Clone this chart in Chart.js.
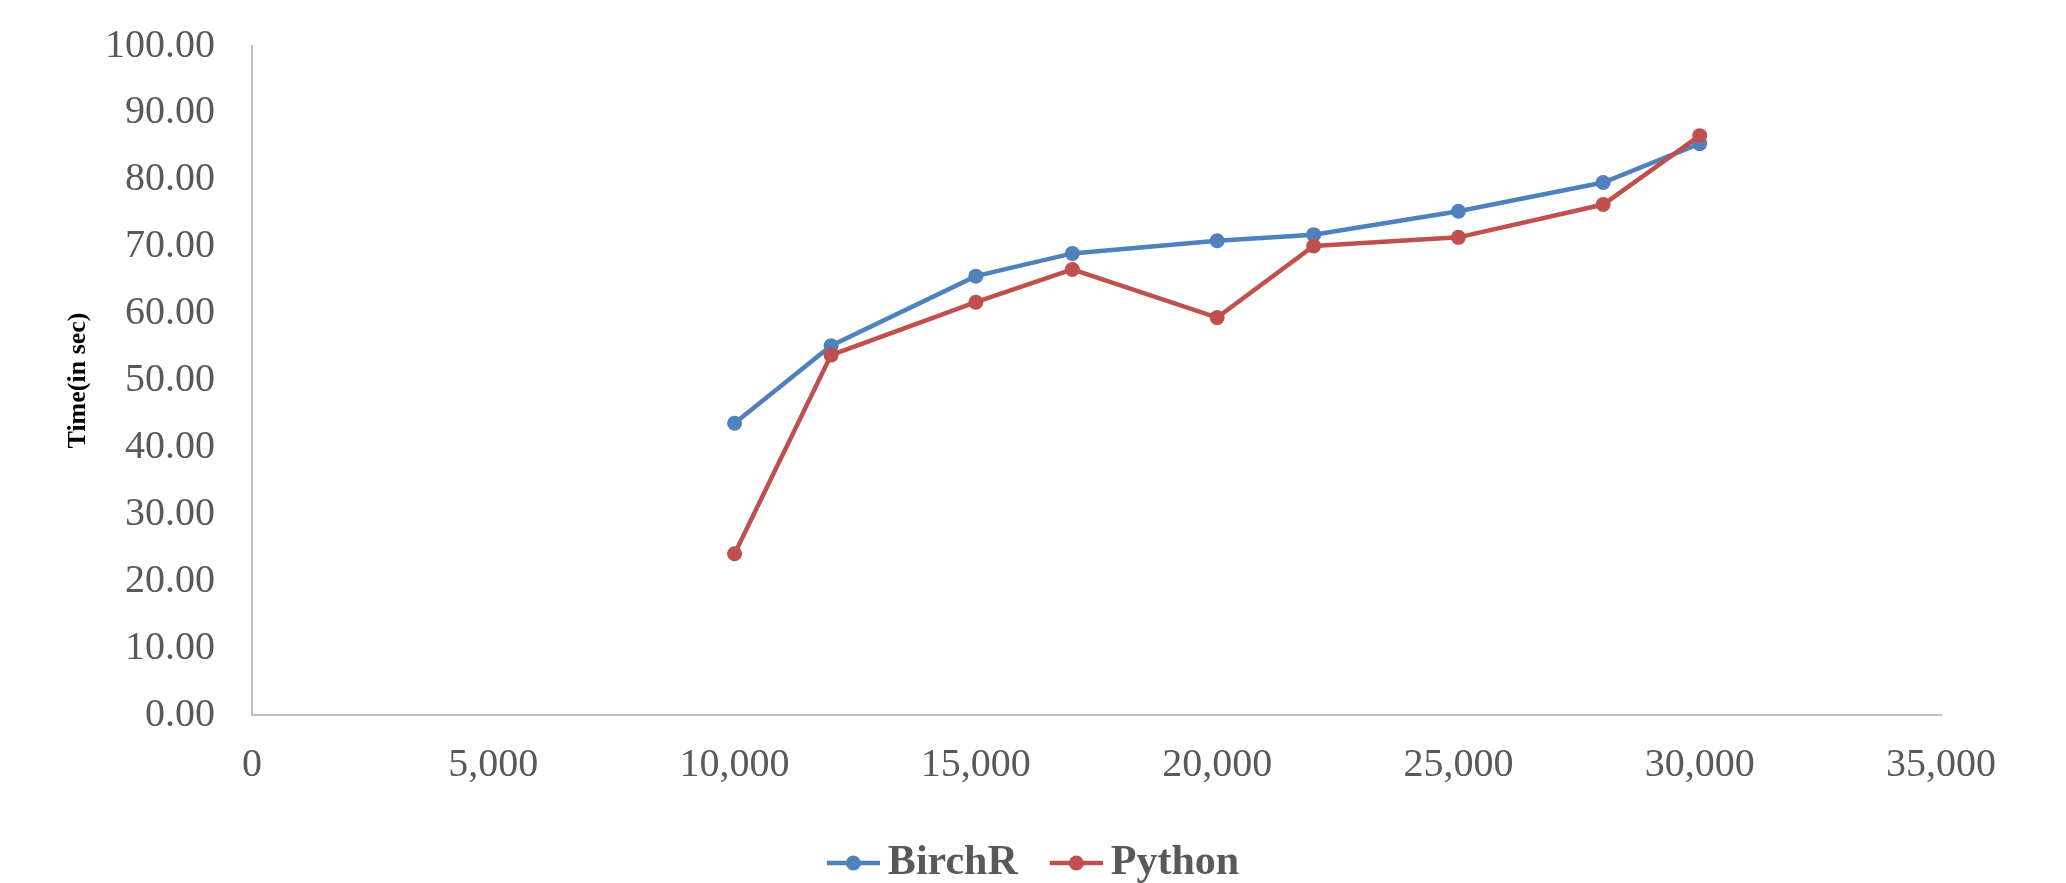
<!DOCTYPE html>
<html lang="en">
<head>
    <meta charset="UTF-8">
    <title>BirchR vs Python</title>
    <script src="https://cdn.jsdelivr.net/npm/chart.js"></script>
    <style>
        html, body { margin: 0; padding: 0; background: #fff; }
        #wrap { width: 2066px; height: 883px; }
    </style>
</head>
<body>
<div id="wrap"><canvas id="timeChart"></canvas></div>

<script>
    // data
    const sizes = [10000, 12000, 15000, 17000, 20000, 22000, 25000, 28000, 30000];
    const birchR = [43.6, 55.2, 65.6, 69.0, 70.9, 71.8, 75.3, 79.6, 85.4];
    const python = [24.1, 53.8, 61.7, 66.6, 59.4, 70.1, 71.4, 76.3, 86.6];
    const seriesNames = ['BirchR', 'Python'];
    const yTicks = [0, 10, 20, 30, 40, 50, 60, 70, 80, 90, 100];
    const xTicks = [0, 5000, 10000, 15000, 20000, 25000, 30000, 35000];

    const blue = '#4F81BD';
    const red = '#C0504D';
    const grey = '#595959';
    const serif = "'Liberation Serif', 'Times New Roman', serif";

    // legend marker: short line with a dot, pushed to the right of the image
    function legendMarker(color) {
        const c = document.createElement('canvas');
        c.width = 88;
        c.height = 20;
        const g = c.getContext('2d');
        g.strokeStyle = color;
        g.lineWidth = 4.5;
        g.beginPath();
        g.moveTo(35, 10);
        g.lineTo(88, 10);
        g.stroke();
        g.fillStyle = color;
        g.beginPath();
        g.arc(61.5, 10, 7.5, 0, Math.PI * 2);
        g.fill();
        return c;
    }
    const markers = [legendMarker(blue), legendMarker(red)];

    function pairs(ys) {
        return sizes.map((x, i) => ({ x: x, y: ys[i] }));
    }

    const ctx = document.getElementById('timeChart').getContext('2d');
    new Chart(ctx, {
        type: 'line',
        data: {
            datasets: [
                {
                    label: seriesNames[0],
                    data: pairs(birchR),
                    borderColor: blue,
                    backgroundColor: blue,
                    borderWidth: 4.5,
                    pointRadius: 7.5,
                    pointBorderWidth: 0,
                    order: 1
                },
                {
                    label: seriesNames[1],
                    data: pairs(python),
                    borderColor: red,
                    backgroundColor: red,
                    borderWidth: 4.5,
                    pointRadius: 7.5,
                    pointBorderWidth: 0,
                    order: 0
                }
            ]
        },
        options: {
            responsive: true,
            maintainAspectRatio: false,
            animation: false,
            layout: { padding: { top: 46, right: 125, left: 103, bottom: -11 } },
            plugins: {
                tooltip: { enabled: false },
                legend: {
                    position: 'bottom',
                    labels: {
                        usePointStyle: true,
                        pointStyleWidth: 62,
                        padding: 10,
                        color: grey,
                        font: { family: serif, size: 42, weight: 'bold' },
                        sort: (a, b) => a.datasetIndex - b.datasetIndex,
                        generateLabels: function (chart) {
                            const items = Chart.defaults.plugins.legend.labels.generateLabels(chart);
                            items.forEach(it => { it.pointStyle = markers[it.datasetIndex]; });
                            return items;
                        }
                    }
                }
            },
            scales: {
                x: {
                    type: 'linear',
                    min: 0,
                    max: 35000,
                    afterBuildTicks: s => { s.ticks = xTicks.map(v => ({ value: v })); },
                    grid: { display: false, drawTicks: false },
                    border: { color: '#BFBFBF', width: 2 },
                    ticks: {
                        padding: 26,
                        color: grey,
                        font: { family: serif, size: 40 },
                        maxRotation: 0,
                        callback: v => v.toLocaleString('en-US')
                    },
                    afterFit: s => { s.height = 117; }
                },
                y: {
                    min: 0,
                    max: 100,
                    afterBuildTicks: s => { s.ticks = yTicks.map(v => ({ value: v })); },
                    grid: { display: false, drawTicks: false },
                    border: { color: '#BFBFBF', width: 2 },
                    ticks: {
                        padding: 37,
                        color: grey,
                        font: { family: serif, size: 40 },
                        callback: v => v.toFixed(2)
                    },
                    title: {
                        display: true,
                        text: 'Time(in sec)',
                        color: '#000',
                        font: { family: serif, size: 26, weight: 'bold' },
                        padding: { top: -40, bottom: 0 }
                    },
                    afterFit: s => {
                        s.width = 149;
                        s.paddingTop = 0;
                        s.paddingBottom = 0;
                    }
                }
            }
        }
    });
</script>
</body>
</html>
